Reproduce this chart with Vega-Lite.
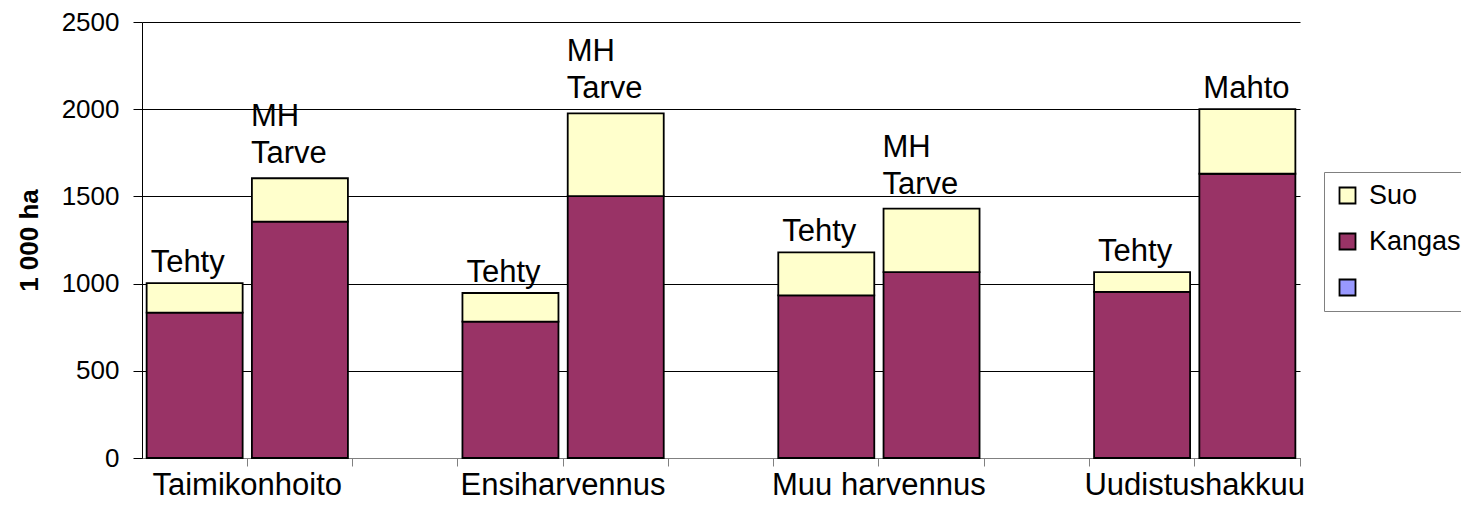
{
  "$schema": "https://vega.github.io/schema/vega-lite/v6.json",
  "autosize": {"type": "none"},
  "width": 1158,
  "height": 436,
  "padding": {"left": 142, "top": 22, "right": 161, "bottom": 47},
  "background": "white",
  "config": {
    "font": "Liberation Sans",
    "view": {"stroke": null}
  },
  "data": {
    "values": [
      {"slot": "Taimikonhoito Tehty", "note": "Tehty", "part": "Kangas", "value": 833},
      {"slot": "Taimikonhoito Tehty", "note": "Tehty", "part": "Suo", "value": 170},
      {"slot": "Taimikonhoito MH Tarve", "note": "MH\nTarve", "part": "Kangas", "value": 1355},
      {"slot": "Taimikonhoito MH Tarve", "note": "MH\nTarve", "part": "Suo", "value": 249},
      {"slot": "Ensiharvennus Tehty", "note": "Tehty", "part": "Kangas", "value": 782},
      {"slot": "Ensiharvennus Tehty", "note": "Tehty", "part": "Suo", "value": 164},
      {"slot": "Ensiharvennus MH Tarve", "note": "MH\nTarve", "part": "Kangas", "value": 1502},
      {"slot": "Ensiharvennus MH Tarve", "note": "MH\nTarve", "part": "Suo", "value": 474},
      {"slot": "Muu harvennus Tehty", "note": "Tehty", "part": "Kangas", "value": 933},
      {"slot": "Muu harvennus Tehty", "note": "Tehty", "part": "Suo", "value": 246},
      {"slot": "Muu harvennus MH Tarve", "note": "MH\nTarve", "part": "Kangas", "value": 1066},
      {"slot": "Muu harvennus MH Tarve", "note": "MH\nTarve", "part": "Suo", "value": 364},
      {"slot": "Uudistushakkuu Tehty", "note": "Tehty", "part": "Kangas", "value": 953},
      {"slot": "Uudistushakkuu Tehty", "note": "Tehty", "part": "Suo", "value": 113},
      {"slot": "Uudistushakkuu Mahto", "note": "Mahto", "part": "Kangas", "value": 1630},
      {"slot": "Uudistushakkuu Mahto", "note": "Mahto", "part": "Suo", "value": 371}
    ]
  },
  "layer": [
    {
      "mark": {"type": "bar", "width": {"band": 0.912}, "stroke": "#000", "strokeWidth": 1.8},
      "encoding": {
        "x": {
          "field": "slot",
          "type": "nominal",
          "scale": {
            "domain": ["Taimikonhoito Tehty", "Taimikonhoito MH Tarve", "gap1",
                       "Ensiharvennus Tehty", "Ensiharvennus MH Tarve", "gap2",
                       "Muu harvennus Tehty", "Muu harvennus MH Tarve", "gap3",
                       "Uudistushakkuu Tehty", "Uudistushakkuu Mahto"],
            "paddingInner": 0,
            "paddingOuter": 0
          },
          "axis": {
            "title": null,
            "labelAngle": 0,
            "bandPosition": 1,
            "labelOffset": 52.6,
            "labelExpr": "indexof(datum.value, ' Tehty') > 0 ? replace(datum.value, ' Tehty', '') : ''",
            "labelFontSize": 31,
            "labelColor": "#000",
            "labelPadding": 4,
            "labelLimit": 400,
            "labelOverlap": false,
            "labelBound": false,
            "tickSize": 8,
            "tickColor": "#808080",
            "domainColor": "#808080",
            "grid": false
          }
        },
        "y": {
          "field": "value",
          "type": "quantitative",
          "scale": {"domain": [0, 2500], "nice": false},
          "axis": {
            "title": "1 000 ha",
            "titleFontSize": 26,
            "titleFontWeight": "bold",
            "titleColor": "#000",
            "titlePadding": 19,
            "values": [0, 500, 1000, 1500, 2000, 2500],
            "format": "d",
            "labelFontSize": 26,
            "labelColor": "#000",
            "labelPadding": 14,
            "tickSize": 9,
            "tickColor": "#000",
            "domainColor": "#000",
            "grid": true,
            "gridColor": "#000",
            "gridOpacity": 1
          }
        },
        "color": {
          "field": "part",
          "type": "nominal",
          "scale": {"domain": ["Suo", "Kangas", "Sarja3"], "range": ["#FFFFCC", "#993366", "#9999FF"]},
          "legend": {
            "title": null,
            "orient": "none",
            "legendX": 1182,
            "legendY": 150,
            "padding": 10,
            "strokeColor": "#808080",
            "fillColor": "#ffffff",
            "symbolType": "square",
            "symbolSize": 256,
            "symbolStrokeColor": "#000",
            "symbolStrokeWidth": 1.8,
            "symbolOpacity": 1,
            "labelFontSize": 27,
            "labelColor": "#000",
            "labelOffset": 8,
            "rowPadding": 18,
            "labelExpr": "datum.label == 'Sarja3' ? '' : datum.label"
          }
        },
        "order": {"field": "part", "sort": "ascending"}
      }
    },
    {
      "transform": [
        {"aggregate": [{"op": "sum", "field": "value", "as": "total"}], "groupby": ["slot", "note"]},
        {"filter": "datum.note == 'Tehty' || datum.note == 'Mahto'"}
      ],
      "mark": {"type": "text", "align": "left", "baseline": "alphabetic", "dx": -44, "dy": -11, "fontSize": 31, "color": "#000"},
      "encoding": {
        "x": {"field": "slot", "type": "nominal"},
        "y": {"field": "total", "type": "quantitative"},
        "text": {"field": "note"}
      }
    },
    {
      "transform": [
        {"aggregate": [{"op": "sum", "field": "value", "as": "total"}], "groupby": ["slot", "note"]},
        {"filter": "datum.note != 'Tehty' && datum.note != 'Mahto'"}
      ],
      "mark": {"type": "text", "align": "left", "baseline": "alphabetic", "dx": -49, "dy": -52, "fontSize": 31, "lineHeight": 37, "lineBreak": "\n", "color": "#000"},
      "encoding": {
        "x": {"field": "slot", "type": "nominal"},
        "y": {"field": "total", "type": "quantitative"},
        "text": {"field": "note"}
      }
    }
  ]
}
